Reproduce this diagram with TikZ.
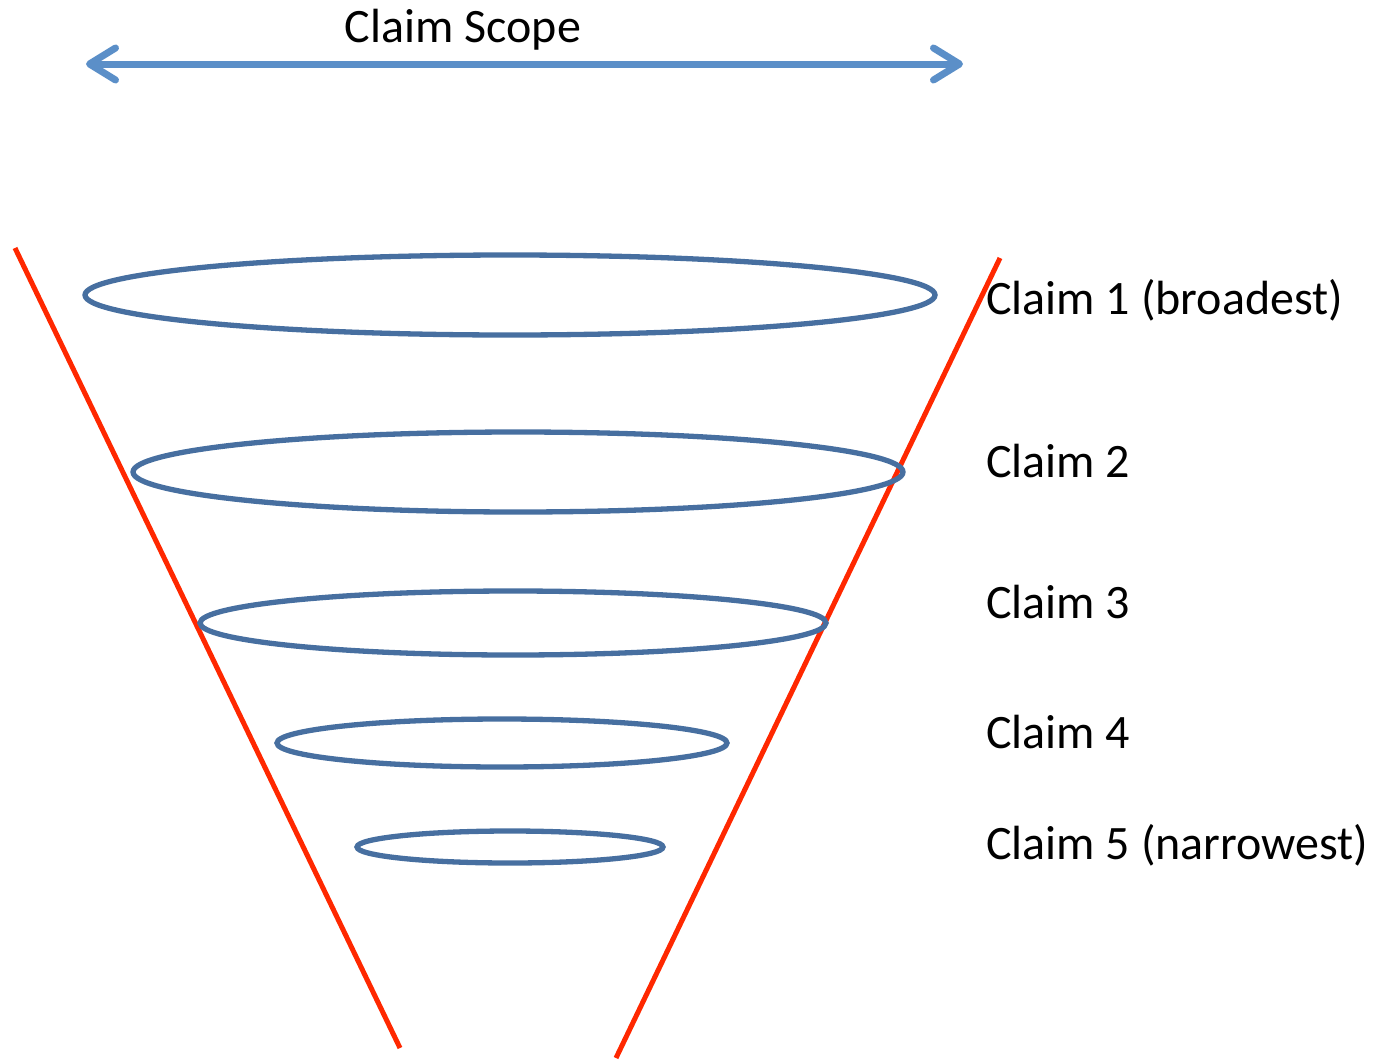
\documentclass[tikz,border=0pt]{standalone}
\usepackage{fontspec}
\setmainfont{Carlito}
\usetikzlibrary{arrows.meta}
\definecolor{scopeblue}{RGB}{91,143,200}
\definecolor{ringblue}{RGB}{71,111,160}
\definecolor{conered}{RGB}{255,40,0}
\tikzset{
  ring/.style={draw=ringblue, line width=5.3pt},
  coneline/.style={draw=conered, line width=5pt},
  scopearrow/.style={draw=scopeblue, line width=7pt,
    {Straight Barb[length=26pt,width=32pt,round]}-{Straight Barb[length=26pt,width=32pt,round]}},
  lbl/.style={font=\fontsize{48pt}{52pt}\selectfont, anchor=base west, inner sep=0pt, text=black}
}
\begin{document}
\begin{tikzpicture}[x=1pt,y=-1pt]
\useasboundingbox (0,0) rectangle (1378,1060);
% scope arrow
\coordinate (sl) at (86,64);
\coordinate (sr) at (963,64);
\draw[scopearrow] (sl) -- (sr);
\node[lbl, anchor=base] (scope) at (463,42) {Claim Scope};
% cone
\coordinate (lt) at (15,248);
\coordinate (lb) at (400,1048);
\coordinate (rt) at (1000,258);
\coordinate (rb) at (616,1058);
\draw[coneline] (lt) -- (lb);
\draw[coneline] (rt) -- (rb);
% rings
\draw[ring] (510,295) ellipse [x radius=425, y radius=40];
\draw[ring] (518,472) ellipse [x radius=385, y radius=40];
\draw[ring] (513,623) ellipse [x radius=313, y radius=32];
\draw[ring] (502,743) ellipse [x radius=225, y radius=24];
\draw[ring] (510,847) ellipse [x radius=153, y radius=16];
% labels
\node[lbl] (c1) at (986,314) {Claim 1 (broadest)};
\node[lbl] (c2) at (986,477) {Claim 2};
\node[lbl] (c3) at (986,618) {Claim 3};
\node[lbl] (c4) at (986,748) {Claim 4};
\node[lbl] (c5) at (986,859) {Claim 5 (narrowest)};
\end{tikzpicture}
\end{document}
